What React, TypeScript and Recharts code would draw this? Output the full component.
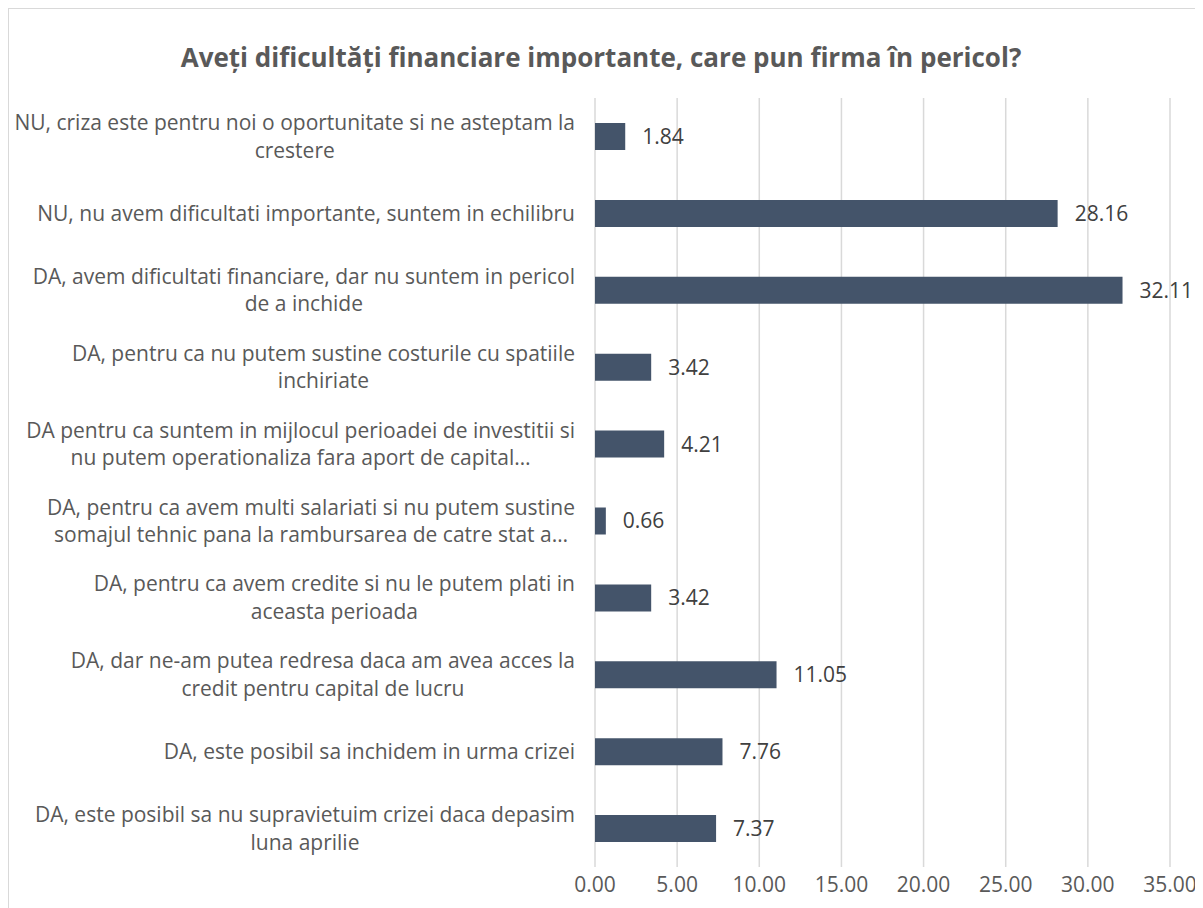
import { BarChart, Bar, XAxis, YAxis, CartesianGrid, LabelList } from "recharts";

const categories: string[][] = [
  ["NU, criza este pentru noi o oportunitate si ne asteptam la", "crestere"],
  ["NU, nu avem dificultati importante, suntem in echilibru"],
  ["DA, avem dificultati financiare, dar nu suntem in pericol", "de a inchide"],
  ["DA, pentru ca nu putem sustine costurile cu spatiile", "inchiriate"],
  ["DA pentru ca suntem in mijlocul perioadei de investitii si", "nu putem operationaliza fara aport de capital…"],
  ["DA, pentru ca avem multi salariati si nu putem sustine", "somajul tehnic pana la rambursarea de catre stat a…"],
  ["DA, pentru ca avem credite si nu le putem plati in", "aceasta perioada"],
  ["DA, dar ne-am putea redresa daca am avea acces la", "credit pentru capital de lucru"],
  ["DA, este posibil sa inchidem in urma crizei"],
  ["DA, este posibil sa nu supravietuim crizei daca depasim", "luna aprilie"],
];

const values = [1.84, 28.16, 32.11, 3.42, 4.21, 0.66, 3.42, 11.05, 7.76, 7.37];

const xTicks = [0, 5, 10, 15, 20, 25, 30, 35];

const title = "Aveți dificultăți financiare importante, care pun firma în pericol?";

const data = categories.map((lines, i) => ({ name: lines.join("\n"), value: values[i] }));

const FONT = "'Open Sans', 'Noto Sans', sans-serif";
const FONT_SIZE = 21;

let ctx: CanvasRenderingContext2D | null = null;
function measure(text: string) {
  if (!ctx) ctx = document.createElement("canvas").getContext("2d");
  if (!ctx) return text.length * 9;
  ctx.font = `${FONT_SIZE}px 'Open Sans'`;
  return ctx.measureText(text).width;
}

function CategoryTick(props: any) {
  const { x, y, payload } = props;
  const lines: string[] = String(payload.value).split("\n");
  const right = x - 12;
  const block = Math.max(...lines.map(measure));
  const cx = right - block / 2;
  const lh = 27.5;
  const top = y - ((lines.length - 1) * lh) / 2;
  return (
    <text fill="#595959" fontSize={FONT_SIZE} fontFamily={FONT} textAnchor="middle">
      {lines.map((l, i) => (
        <tspan key={i} x={cx} y={top + i * lh} dy="0.35em">
          {l}
        </tspan>
      ))}
    </text>
  );
}

export default function App() {
  return (
    <div
      style={{
        position: "relative",
        width: 1200,
        height: 905,
        border: "1px solid #d9d9d9",
        background: "#fff",
      }}
    >
      <div
        style={{
          position: "absolute",
          left: 0,
          width: 1184,
          top: 30,
          textAlign: "center",
          fontFamily: FONT,
          fontWeight: 700,
          fontSize: 26,
          color: "#595959",
        }}
      >
        {title}
      </div>
      <BarChart
        width={1200}
        height={900}
        data={data}
        layout="vertical"
        margin={{ top: 89, right: 39, bottom: 11, left: 0 }}
      >
        <CartesianGrid horizontal={false} stroke="#d9d9d9" strokeWidth={1.5} />
        <XAxis
          type="number"
          domain={[0, 35]}
          ticks={xTicks}
          tickFormatter={(v: number) => v.toFixed(2)}
          axisLine={false}
          tickLine={false}
          tickSize={6}
          tickMargin={4}
          height={31}
          tick={{ fill: "#595959", fontSize: FONT_SIZE, fontFamily: FONT }}
        />
        <YAxis
          type="category"
          dataKey="name"
          width={586}
          axisLine={false}
          tickLine={false}
          interval={0}
          tick={<CategoryTick />}
        />
        <Bar dataKey="value" fill="#44546A" barSize={27} isAnimationActive={false}>
          <LabelList
            dataKey="value"
            position="right"
            offset={17}
            formatter={(v: any) => Number(v).toFixed(2)}
            fill="#404040"
            fontSize={FONT_SIZE}
            fontFamily={FONT}
          />
        </Bar>
      </BarChart>
    </div>
  );
}
